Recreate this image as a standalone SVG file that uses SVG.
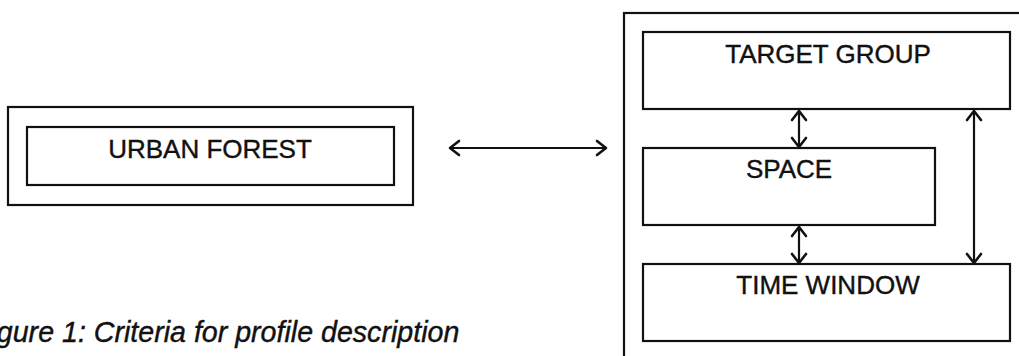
<svg xmlns="http://www.w3.org/2000/svg" width="1019" height="356" viewBox="0 0 1019 356">
<style>
.box{fill:none;stroke:#111;stroke-width:2.2}
.lbl{font-family:"Liberation Sans",Arial,sans-serif;font-size:26px;fill:#111;stroke:#111;stroke-width:0.4;text-anchor:middle}
.cap{font-family:"Liberation Sans",Arial,sans-serif;font-size:28.6px;font-style:italic;fill:#111;stroke:#111;stroke-width:0.4}
.conn{fill:none;stroke:#111;stroke-width:2.2;marker-start:url(#ah);marker-end:url(#ah)}
</style>
<defs>
<marker id="ah" viewBox="-12 -9 14 18" markerWidth="14" markerHeight="18" refX="0" refY="0" orient="auto-start-reverse" markerUnits="userSpaceOnUse">
<path d="M-9,-7 L0,0 L-9,7" fill="none" stroke="#111" stroke-width="2.6" stroke-linecap="round" stroke-linejoin="round"/>
</marker>
</defs>
<rect width="1019" height="356" fill="#fff"/>
<g id="urban-forest">
<rect class="box" x="8" y="107" width="405" height="98"/>
<rect class="box" x="27" y="127" width="367" height="58"/>
<text class="lbl" x="210" y="158">URBAN FOREST</text>
</g>
<g id="profile">
<rect class="box" x="624" y="13" width="420" height="360"/>
</g>
<g id="target-group">
<rect class="box" x="643" y="32" width="367" height="77"/>
<text class="lbl" x="828" y="63">TARGET GROUP</text>
</g>
<g id="space">
<rect class="box" x="643" y="148" width="292" height="77"/>
<text class="lbl" x="789" y="178">SPACE</text>
</g>
<g id="time-window">
<rect class="box" x="643" y="264" width="367" height="77"/>
<text class="lbl" x="828" y="294">TIME WINDOW</text>
</g>
<g id="connectors">
<line class="conn" x1="450" y1="148" x2="606" y2="148"/>
<line class="conn" x1="799" y1="111" x2="799" y2="147"/>
<line class="conn" x1="799" y1="227" x2="799" y2="263"/>
<line class="conn" x1="974" y1="111" x2="974" y2="263"/>
</g>
<text class="cap" x="-27" y="342">Figure 1: Criteria for profile description</text>
</svg>
